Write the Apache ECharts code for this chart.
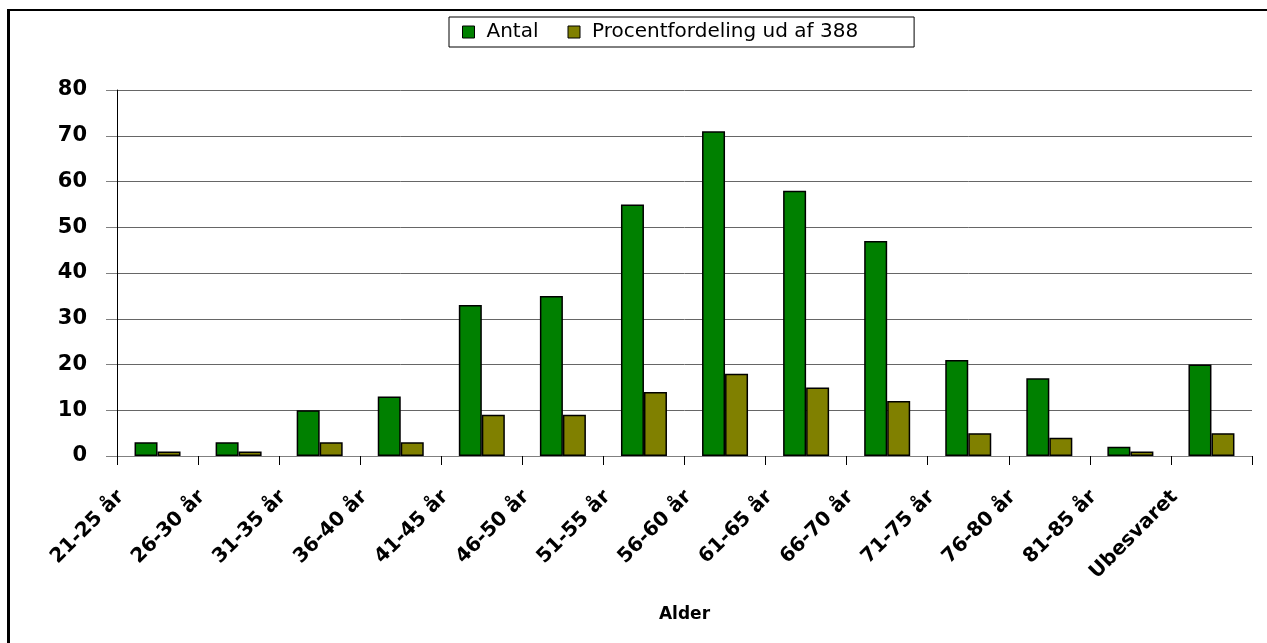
<!DOCTYPE html>
<html>
<head>
<meta charset="utf-8">
<script src="https://cdn.jsdelivr.net/npm/echarts@6/dist/echarts.min.js"></script>
<style>
    html, body {margin: 0; padding: 0; background: #fff;}
    #frame {
        position: absolute; left: 7px; top: 9px; width: 1260px; height: 634px;
        border-left: 3px solid #000; border-top: 2px solid #000; box-sizing: border-box;
    }
    #main {position: absolute; left: 0; top: 0; width: 1267px; height: 643px;}
</style>
</head>
<body>
<div id="frame"></div>
<div id="main"></div>
<script>
let categories = ['21-25 år', '26-30 år', '31-35 år', '36-40 år', '41-45 år', '46-50 år', '51-55 år',
    '56-60 år', '61-65 år', '66-70 år', '71-75 år', '76-80 år', '81-85 år', 'Ubesvaret'];
let antal = [3, 3, 10, 13, 33, 35, 55, 71, 58, 47, 21, 17, 2, 20];
let procent = [1, 1, 3, 3, 9, 9, 14, 18, 15, 12, 5, 4, 1, 5];

let font = 'DejaVu Sans';

function gen_bar_series(name, data, color) {
    return {
        name: name,
        type: 'bar',
        data: data,
        barWidth: 23,
        barGap: '0%',
        itemStyle: {color: color, borderColor: '#000', borderWidth: 1.5},
    };
}

let chart = echarts.init(document.getElementById('main'));
let option = {
    animation: false,
    legend: {
        left: 449,
        top: 17,
        padding: [5, 56, 5, 13],
        itemGap: 29,
        itemWidth: 12,
        itemHeight: 12,
        borderColor: '#000',
        borderWidth: 1,
        icon: 'rect',
        itemStyle: {borderColor: '#000', borderWidth: 1},
        textStyle: {fontFamily: font, fontSize: 20, color: '#000', padding: [0, 0, 0, 7]},
        data: ['Antal', 'Procentfordeling ud af 388']
    },
    grid: {left: 117, right: 15, top: 90, bottom: 187},
    xAxis: {
        type: 'category',
        data: categories,
        name: 'Alder',
        nameLocation: 'middle',
        nameGap: 150,
        nameTextStyle: {fontFamily: font, fontSize: 17, fontWeight: 'bold', color: '#000'},
        axisLine: {lineStyle: {color: '#808080', width: 1}},
        axisTick: {show: true, interval: 0, length: 9, lineStyle: {color: '#000'}},
        axisLabel: {
            interval: 0,
            rotate: 45,
            margin: 1,
            padding: [0, 52, 0, 0],
            fontFamily: font, fontSize: 20, fontWeight: 'bold', color: '#000'
        }
    },
    yAxis: {
        type: 'value',
        min: 0,
        max: 80,
        interval: 10,
        axisLine: {show: true, lineStyle: {color: '#000', width: 1}},
        axisTick: {show: true, length: 11, lineStyle: {color: '#808080'}},
        axisLabel: {margin: 30, fontFamily: font, fontSize: 21, fontWeight: 'bold', color: '#000'},
        splitLine: {lineStyle: {color: '#666', width: 1}}
    },
    series: [
        gen_bar_series('Antal', antal, '#008000'),
        gen_bar_series('Procentfordeling ud af 388', procent, '#808000')
    ]
};
chart.setOption(option);
</script>
</body>
</html>
